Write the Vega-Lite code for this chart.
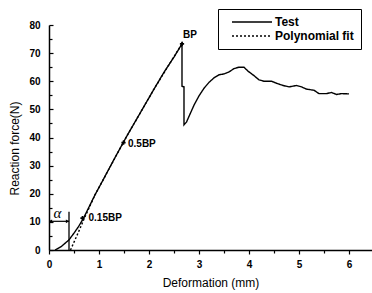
{
  "$schema": "https://vega.github.io/schema/vega-lite/v6.json",
  "width": 323,
  "height": 225,
  "autosize": {"type": "none"},
  "padding": {"left": 49, "top": 25, "right": 0, "bottom": 43},
  "background": "white",
  "config": {
    "view": {"stroke": null},
    "font": "Liberation Sans",
    "axis": {"grid": false, "domainColor": "black", "tickColor": "black", "labelColor": "black", "titleColor": "black", "domainWidth": 1.5, "tickWidth": 1.2}
  },
  "datasets": {
    "curves": [
      {"i": 1, "x": 0.12, "y": 0, "series": "Test"},
      {"i": 2, "x": 0.25, "y": 1.3, "series": "Test"},
      {"i": 3, "x": 0.4, "y": 3.6, "series": "Test"},
      {"i": 4, "x": 0.5, "y": 6, "series": "Test"},
      {"i": 5, "x": 0.59, "y": 8.3, "series": "Test"},
      {"i": 6, "x": 0.69, "y": 11.3, "series": "Test"},
      {"i": 7, "x": 0.92, "y": 19.6, "series": "Test"},
      {"i": 8, "x": 1.09, "y": 25.2, "series": "Test"},
      {"i": 9, "x": 1.3, "y": 32.2, "series": "Test"},
      {"i": 10, "x": 1.55, "y": 40.3, "series": "Test"},
      {"i": 11, "x": 1.82, "y": 48.6, "series": "Test"},
      {"i": 12, "x": 2.09, "y": 56.9, "series": "Test"},
      {"i": 13, "x": 2.3, "y": 63.2, "series": "Test"},
      {"i": 14, "x": 2.5, "y": 68.6, "series": "Test"},
      {"i": 15, "x": 2.66, "y": 73.3, "series": "Test"},
      {"i": 16, "x": 2.66, "y": 58.2, "series": "Test"},
      {"i": 17, "x": 2.7, "y": 58, "series": "Test"},
      {"i": 18, "x": 2.7, "y": 44.5, "series": "Test"},
      {"i": 19, "x": 2.75, "y": 45.5, "series": "Test"},
      {"i": 20, "x": 2.8, "y": 47.5, "series": "Test"},
      {"i": 21, "x": 2.9, "y": 51.5, "series": "Test"},
      {"i": 22, "x": 3.0, "y": 54.8, "series": "Test"},
      {"i": 23, "x": 3.1, "y": 57.5, "series": "Test"},
      {"i": 24, "x": 3.2, "y": 59.6, "series": "Test"},
      {"i": 25, "x": 3.3, "y": 61.2, "series": "Test"},
      {"i": 26, "x": 3.4, "y": 62.3, "series": "Test"},
      {"i": 27, "x": 3.5, "y": 62.6, "series": "Test"},
      {"i": 28, "x": 3.6, "y": 63.3, "series": "Test"},
      {"i": 29, "x": 3.7, "y": 64.5, "series": "Test"},
      {"i": 30, "x": 3.8, "y": 65, "series": "Test"},
      {"i": 31, "x": 3.9, "y": 65, "series": "Test"},
      {"i": 32, "x": 3.98, "y": 63.6, "series": "Test"},
      {"i": 33, "x": 4.1, "y": 62, "series": "Test"},
      {"i": 34, "x": 4.2, "y": 60.5, "series": "Test"},
      {"i": 35, "x": 4.3, "y": 60, "series": "Test"},
      {"i": 36, "x": 4.45, "y": 60, "series": "Test"},
      {"i": 37, "x": 4.55, "y": 59.3, "series": "Test"},
      {"i": 38, "x": 4.68, "y": 58.5, "series": "Test"},
      {"i": 39, "x": 4.8, "y": 58, "series": "Test"},
      {"i": 40, "x": 4.95, "y": 58.5, "series": "Test"},
      {"i": 41, "x": 5.05, "y": 58, "series": "Test"},
      {"i": 42, "x": 5.15, "y": 57.2, "series": "Test"},
      {"i": 43, "x": 5.3, "y": 56.8, "series": "Test"},
      {"i": 44, "x": 5.4, "y": 55.6, "series": "Test"},
      {"i": 45, "x": 5.55, "y": 55.6, "series": "Test"},
      {"i": 46, "x": 5.65, "y": 56, "series": "Test"},
      {"i": 47, "x": 5.75, "y": 55.3, "series": "Test"},
      {"i": 48, "x": 5.85, "y": 55.6, "series": "Test"},
      {"i": 49, "x": 6.0, "y": 55.5, "series": "Test"},
      {"i": 1, "x": 0.43, "y": 0, "series": "Polynomial fit"},
      {"i": 2, "x": 0.6, "y": 6.8, "series": "Polynomial fit"},
      {"i": 3, "x": 0.7, "y": 11, "series": "Polynomial fit"},
      {"i": 4, "x": 0.92, "y": 19.6, "series": "Polynomial fit"},
      {"i": 5, "x": 1.09, "y": 25.2, "series": "Polynomial fit"},
      {"i": 6, "x": 1.55, "y": 40.3, "series": "Polynomial fit"},
      {"i": 7, "x": 2.09, "y": 56.9, "series": "Polynomial fit"},
      {"i": 8, "x": 2.4, "y": 65.9, "series": "Polynomial fit"},
      {"i": 9, "x": 2.66, "y": 73.3, "series": "Polynomial fit"}
    ],
    "labels": [
      {"x": 2.68, "y": 76.5, "t": "BP"},
      {"x": 1.58, "y": 37.7, "t": "0.5BP"},
      {"x": 0.79, "y": 11.3, "t": "0.15BP"}
    ],
    "markers": [
      {"x": 2.66, "y": 73.3},
      {"x": 1.49, "y": 38.2},
      {"x": 0.67, "y": 11.3}
    ],
    "vrule": [{"x": 0.4, "y": 0, "y2": 13.6}],
    "hrule": [{"x": 0, "x2": 0.4, "y": 10.2}],
    "heads": [{"x": 0.03, "y": 10.2, "s": "triangle-left"}, {"x": 0.37, "y": 10.2, "s": "triangle-right"}],
    "alpha": [{"x": 0.17, "y": 13, "t": "α"}]
  },
  "layer": [
    {
      "data": {"name": "curves"},
      "mark": {"type": "line", "color": "black", "strokeWidth": 1.4},
      "encoding": {
        "x": {"field": "x", "type": "quantitative", "scale": {"domain": [0, 6.46], "nice": false, "zero": false},
          "axis": {"orient": "bottom", "values": [0, 1, 2, 3, 4, 5, 6], "tickSize": 4, "labelPadding": 5, "labelFontSize": 10, "labelFontWeight": "bold", "title": "Deformation (mm)", "titleFontSize": 12, "titleFontWeight": "normal", "titleY": 27, "titleBaseline": "top", "labelFlush": false}},
        "y": {"field": "y", "type": "quantitative", "scale": {"domain": [0, 80], "nice": false},
          "axis": {"orient": "left", "values": [0, 10, 20, 30, 40, 50, 60, 70, 80], "tickSize": -4, "labelPadding": 13, "labelFontSize": 10, "labelFontWeight": "bold", "title": "Reaction force(N)", "titleFontSize": 12, "titleFontWeight": "normal", "titleX": -28, "titleY": 123, "titleBaseline": "bottom", "labelFlush": false}},
        "strokeDash": {"field": "series", "type": "nominal",
          "scale": {"domain": ["Test", "Polynomial fit"], "range": [[1, 0], [2, 2]]},
          "legend": {"title": null, "orient": "none", "legendX": 169, "legendY": -16, "strokeColor": "black", "fillColor": "white", "padding": 7, "rowPadding": 2, "symbolType": "M-4,0H4", "symbolSize": 100, "symbolOffset": 21, "labelOffset": 17, "symbolStrokeColor": "black", "symbolStrokeWidth": 1.4, "labelFontSize": 12, "labelFontWeight": "bold", "labelColor": "black"}},
        "order": {"field": "i", "type": "quantitative"}
      }
    },
    {
      "data": {"name": "markers"},
      "mark": {"type": "point", "opacity": 0},
      "encoding": {
        "x": {"field": "x", "type": "quantitative", "axis": {"orient": "bottom", "values": [0.5, 1.5, 2.5, 3.5, 4.5, 5.5], "tickSize": 3, "labels": false, "domain": false, "title": null}},
        "y": {"field": "y", "type": "quantitative", "axis": {"orient": "left", "values": [5, 15, 25, 35, 45, 55, 65, 75], "tickSize": -3, "labels": false, "domain": false, "title": null}}
      }
    },
    {
      "data": {"name": "vrule"},
      "mark": {"type": "rule", "color": "black", "strokeWidth": 1.3},
      "encoding": {
        "x": {"field": "x", "type": "quantitative", "axis": null},
        "y": {"field": "y", "type": "quantitative", "axis": null},
        "y2": {"field": "y2"}
      }
    },
    {
      "data": {"name": "hrule"},
      "mark": {"type": "rule", "color": "black", "strokeWidth": 1.2},
      "encoding": {
        "x": {"field": "x", "type": "quantitative", "axis": null},
        "x2": {"field": "x2"},
        "y": {"field": "y", "type": "quantitative", "axis": null}
      }
    },
    {
      "data": {"name": "heads"},
      "mark": {"type": "point", "filled": true, "color": "black", "size": 14, "opacity": 1},
      "encoding": {
        "x": {"field": "x", "type": "quantitative", "axis": null},
        "y": {"field": "y", "type": "quantitative", "axis": null},
        "shape": {"field": "s", "type": "nominal", "scale": null, "legend": null}
      }
    },
    {
      "data": {"name": "markers"},
      "mark": {"type": "point", "shape": "cross", "filled": true, "color": "black", "size": 18, "opacity": 1},
      "encoding": {
        "x": {"field": "x", "type": "quantitative", "axis": null},
        "y": {"field": "y", "type": "quantitative", "axis": null}
      }
    },
    {
      "data": {"name": "labels"},
      "mark": {"type": "text", "align": "left", "baseline": "middle", "fontSize": 10, "fontWeight": "bold", "color": "black", "font": "Liberation Sans"},
      "encoding": {
        "x": {"field": "x", "type": "quantitative", "axis": null},
        "y": {"field": "y", "type": "quantitative", "axis": null},
        "text": {"field": "t"}
      }
    },
    {
      "data": {"name": "alpha"},
      "mark": {"type": "text", "align": "center", "baseline": "middle", "fontSize": 15, "fontStyle": "italic", "font": "Liberation Serif", "color": "black"},
      "encoding": {
        "x": {"field": "x", "type": "quantitative", "axis": null},
        "y": {"field": "y", "type": "quantitative", "axis": null},
        "text": {"field": "t"}
      }
    }
  ],
  "resolve": {"axis": {"x": "independent", "y": "independent"}}
}
